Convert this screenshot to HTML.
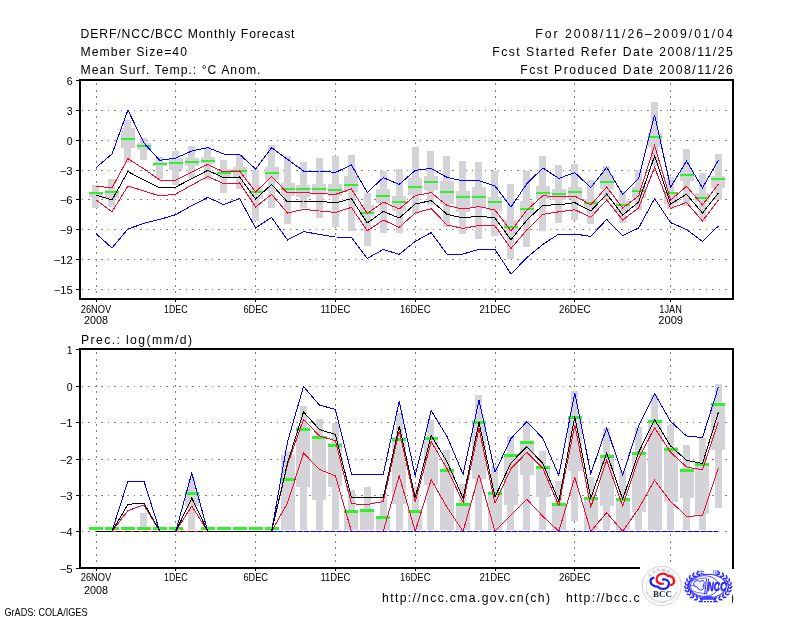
<!DOCTYPE html><html><head><meta charset="utf-8"><title>DERF/NCC/BCC Monthly Forecast</title>
<style>html,body{margin:0;padding:0;background:#fff}svg{display:block}text{font-family:"Liberation Sans","Noto Sans CJK SC",sans-serif;fill:#000}</style></head><body>
<svg width="800" height="618" viewBox="0 0 800 618">
<rect width="800" height="618" fill="#fff"/>
<g stroke="#808080" stroke-width="1" fill="none" shape-rendering="crispEdges">
<line x1="81" y1="110.5" x2="732" y2="110.5" stroke-dasharray="2 4.5 1 5.5" stroke-dashoffset="-7"/>
<line x1="81" y1="140.5" x2="732" y2="140.5" stroke-dasharray="2 4.5 1 5.5" stroke-dashoffset="-7"/>
<line x1="81" y1="170.5" x2="732" y2="170.5" stroke-dasharray="2 4.5 1 5.5" stroke-dashoffset="-7"/>
<line x1="81" y1="199.5" x2="732" y2="199.5" stroke-dasharray="2 4.5 1 5.5" stroke-dashoffset="-7"/>
<line x1="81" y1="229.5" x2="732" y2="229.5" stroke-dasharray="2 4.5 1 5.5" stroke-dashoffset="-7"/>
<line x1="81" y1="259.5" x2="732" y2="259.5" stroke-dasharray="2 4.5 1 5.5" stroke-dashoffset="-7"/>
<line x1="81" y1="289.5" x2="732" y2="289.5" stroke-dasharray="2 4.5 1 5.5" stroke-dashoffset="-7"/>
<line x1="96.5" y1="81" x2="96.5" y2="299" stroke-dasharray="2 4.5" stroke-dashoffset="-2"/>
<line x1="175.5" y1="81" x2="175.5" y2="299" stroke-dasharray="2 4.5" stroke-dashoffset="-2"/>
<line x1="255.5" y1="81" x2="255.5" y2="299" stroke-dasharray="2 4.5" stroke-dashoffset="-2"/>
<line x1="335.5" y1="81" x2="335.5" y2="299" stroke-dasharray="2 4.5" stroke-dashoffset="-2"/>
<line x1="415.5" y1="81" x2="415.5" y2="299" stroke-dasharray="2 4.5" stroke-dashoffset="-2"/>
<line x1="495.5" y1="81" x2="495.5" y2="299" stroke-dasharray="2 4.5" stroke-dashoffset="-2"/>
<line x1="574.5" y1="81" x2="574.5" y2="299" stroke-dasharray="2 4.5" stroke-dashoffset="-2"/>
<line x1="670.5" y1="81" x2="670.5" y2="299" stroke-dasharray="2 4.5" stroke-dashoffset="-2"/>
</g>
<g shape-rendering="crispEdges">
<rect x="92" y="184.5" width="7" height="23" fill="#d4d4d8"/>
<rect x="89" y="192" width="14" height="5" fill="#d4d4d8"/>
<rect x="108" y="178.7" width="7" height="27.8" fill="#d4d4d8"/>
<rect x="105" y="189.5" width="14" height="8.5" fill="#d4d4d8"/>
<rect x="124" y="120" width="7" height="42.8" fill="#d4d4d8"/>
<rect x="121" y="128" width="14" height="20.4" fill="#d4d4d8"/>
<rect x="140" y="138.3" width="7" height="21.4" fill="#d4d4d8"/>
<rect x="137" y="143.3" width="14" height="6.2" fill="#d4d4d8"/>
<rect x="156" y="157" width="7" height="21.6" fill="#d4d4d8"/>
<rect x="153" y="161.5" width="14" height="4.5" fill="#d4d4d8"/>
<rect x="172" y="151" width="7" height="34" fill="#d4d4d8"/>
<rect x="169" y="158" width="14" height="12" fill="#d4d4d8"/>
<rect x="188" y="146" width="7" height="32" fill="#d4d4d8"/>
<rect x="185" y="158" width="14" height="7.6" fill="#d4d4d8"/>
<rect x="204" y="147" width="7" height="33" fill="#d4d4d8"/>
<rect x="201" y="157" width="14" height="7" fill="#d4d4d8"/>
<rect x="220" y="160" width="7" height="33.4" fill="#d4d4d8"/>
<rect x="217" y="169" width="14" height="9" fill="#d4d4d8"/>
<rect x="236" y="155" width="7" height="34" fill="#d4d4d8"/>
<rect x="233" y="167" width="14" height="11" fill="#d4d4d8"/>
<rect x="252" y="170" width="7" height="51" fill="#d4d4d8"/>
<rect x="249" y="189" width="14" height="10" fill="#d4d4d8"/>
<rect x="268" y="145" width="7" height="63" fill="#d4d4d8"/>
<rect x="265" y="167" width="14" height="13" fill="#d4d4d8"/>
<rect x="284" y="156" width="7" height="68" fill="#d4d4d8"/>
<rect x="281" y="183" width="14" height="12.6" fill="#d4d4d8"/>
<rect x="300" y="162" width="7" height="46" fill="#d4d4d8"/>
<rect x="296" y="185" width="14" height="12" fill="#d4d4d8"/>
<rect x="316" y="158" width="7" height="60" fill="#d4d4d8"/>
<rect x="312" y="184" width="14" height="11" fill="#d4d4d8"/>
<rect x="332" y="156" width="7" height="71" fill="#d4d4d8"/>
<rect x="328" y="184" width="14" height="12" fill="#d4d4d8"/>
<rect x="348" y="155" width="7" height="76.4" fill="#d4d4d8"/>
<rect x="344" y="176" width="14" height="16" fill="#d4d4d8"/>
<rect x="364" y="193" width="7" height="52.6" fill="#d4d4d8"/>
<rect x="360" y="205" width="14" height="11" fill="#d4d4d8"/>
<rect x="380" y="171" width="7" height="62.3" fill="#d4d4d8"/>
<rect x="376" y="189" width="14" height="14" fill="#d4d4d8"/>
<rect x="396" y="169" width="7" height="64.3" fill="#d4d4d8"/>
<rect x="392" y="196" width="14" height="15" fill="#d4d4d8"/>
<rect x="412" y="147" width="7" height="66.5" fill="#d4d4d8"/>
<rect x="408" y="178" width="14" height="17" fill="#d4d4d8"/>
<rect x="427" y="151" width="7" height="54" fill="#d4d4d8"/>
<rect x="424" y="176" width="14" height="14" fill="#d4d4d8"/>
<rect x="443" y="156" width="7" height="71" fill="#d4d4d8"/>
<rect x="440" y="181" width="14" height="23" fill="#d4d4d8"/>
<rect x="459" y="161" width="7" height="73.2" fill="#d4d4d8"/>
<rect x="456" y="191" width="14" height="21" fill="#d4d4d8"/>
<rect x="475" y="162" width="7" height="77.2" fill="#d4d4d8"/>
<rect x="472" y="187" width="14" height="20" fill="#d4d4d8"/>
<rect x="491" y="171" width="7" height="65.2" fill="#d4d4d8"/>
<rect x="488" y="197" width="14" height="14" fill="#d4d4d8"/>
<rect x="507" y="184" width="7" height="75" fill="#d4d4d8"/>
<rect x="504" y="220" width="14" height="15" fill="#d4d4d8"/>
<rect x="523" y="171" width="7" height="76.4" fill="#d4d4d8"/>
<rect x="520" y="201" width="14" height="15" fill="#d4d4d8"/>
<rect x="539" y="156" width="7" height="75.2" fill="#d4d4d8"/>
<rect x="536" y="186" width="14" height="13" fill="#d4d4d8"/>
<rect x="555" y="165" width="7" height="58.2" fill="#d4d4d8"/>
<rect x="552" y="189" width="14" height="11" fill="#d4d4d8"/>
<rect x="571" y="164" width="7" height="56.2" fill="#d4d4d8"/>
<rect x="568" y="187" width="14" height="12" fill="#d4d4d8"/>
<rect x="587" y="180" width="7" height="44.2" fill="#d4d4d8"/>
<rect x="584" y="199" width="14" height="10" fill="#d4d4d8"/>
<rect x="603" y="166" width="7" height="34" fill="#d4d4d8"/>
<rect x="600" y="175" width="14" height="14" fill="#d4d4d8"/>
<rect x="619" y="191" width="7" height="32" fill="#d4d4d8"/>
<rect x="616" y="201" width="14" height="11" fill="#d4d4d8"/>
<rect x="635" y="170" width="7" height="40" fill="#d4d4d8"/>
<rect x="632" y="187" width="14" height="11" fill="#d4d4d8"/>
<rect x="651" y="102" width="7" height="64" fill="#d4d4d8"/>
<rect x="648" y="133" width="14" height="13.5" fill="#d4d4d8"/>
<rect x="667" y="177" width="7" height="32" fill="#d4d4d8"/>
<rect x="664" y="192" width="14" height="12" fill="#d4d4d8"/>
<rect x="683" y="149" width="7" height="57" fill="#d4d4d8"/>
<rect x="680" y="170" width="14" height="11" fill="#d4d4d8"/>
<rect x="699" y="173" width="7" height="48" fill="#d4d4d8"/>
<rect x="695" y="193" width="14" height="9" fill="#d4d4d8"/>
<rect x="715" y="154" width="7" height="46" fill="#d4d4d8"/>
<rect x="711" y="176" width="14" height="12" fill="#d4d4d8"/>
<rect x="89" y="192" width="14" height="2" fill="#33ee33"/>
<rect x="105" y="191" width="14" height="2" fill="#33ee33"/>
<rect x="121" y="138" width="14" height="2" fill="#33ee33"/>
<rect x="137" y="145" width="14" height="2" fill="#33ee33"/>
<rect x="153" y="163" width="14" height="2" fill="#33ee33"/>
<rect x="169" y="162" width="14" height="2" fill="#33ee33"/>
<rect x="185" y="161" width="14" height="2" fill="#33ee33"/>
<rect x="201" y="160" width="14" height="2" fill="#33ee33"/>
<rect x="217" y="172" width="14" height="2" fill="#33ee33"/>
<rect x="233" y="170" width="14" height="2" fill="#33ee33"/>
<rect x="249" y="191" width="14" height="2" fill="#33ee33"/>
<rect x="265" y="172" width="14" height="2" fill="#33ee33"/>
<rect x="281" y="188" width="14" height="2" fill="#33ee33"/>
<rect x="296" y="188" width="14" height="2" fill="#33ee33"/>
<rect x="312" y="188" width="14" height="2" fill="#33ee33"/>
<rect x="328" y="189" width="14" height="2" fill="#33ee33"/>
<rect x="344" y="184" width="14" height="2" fill="#33ee33"/>
<rect x="360" y="212" width="14" height="2" fill="#33ee33"/>
<rect x="376" y="195" width="14" height="2" fill="#33ee33"/>
<rect x="392" y="201" width="14" height="2" fill="#33ee33"/>
<rect x="408" y="186" width="14" height="2" fill="#33ee33"/>
<rect x="424" y="181" width="14" height="2" fill="#33ee33"/>
<rect x="440" y="191" width="14" height="2" fill="#33ee33"/>
<rect x="456" y="196" width="14" height="2" fill="#33ee33"/>
<rect x="472" y="196" width="14" height="2" fill="#33ee33"/>
<rect x="488" y="201" width="14" height="2" fill="#33ee33"/>
<rect x="504" y="226" width="14" height="2" fill="#33ee33"/>
<rect x="520" y="208" width="14" height="2" fill="#33ee33"/>
<rect x="536" y="192" width="14" height="2" fill="#33ee33"/>
<rect x="552" y="193" width="14" height="2" fill="#33ee33"/>
<rect x="568" y="191" width="14" height="2" fill="#33ee33"/>
<rect x="584" y="202" width="14" height="2" fill="#33ee33"/>
<rect x="600" y="181" width="14" height="2" fill="#33ee33"/>
<rect x="616" y="204" width="14" height="2" fill="#33ee33"/>
<rect x="632" y="190" width="14" height="2" fill="#33ee33"/>
<rect x="648" y="136" width="14" height="2" fill="#33ee33"/>
<rect x="664" y="192" width="14" height="2" fill="#33ee33"/>
<rect x="680" y="174" width="14" height="2" fill="#33ee33"/>
<rect x="695" y="197" width="14" height="2" fill="#33ee33"/>
<rect x="711" y="178" width="14" height="2" fill="#33ee33"/>
<polyline fill="none" stroke="#0000ff" stroke-width="1"  points="96,167.6 112,154 127.9,110 143.9,143 159.8,160.4 175.8,158 191.8,151 207.7,147.6 223.7,154 239.6,154.4 255.6,169 271.6,147.6 287.5,159.4 303.5,171 319.4,171 335.4,172.4 351.4,165 367.3,192.4 383.3,177.6 399.2,184.4 415.2,170.4 431.2,168.4 447.1,177.4 463.1,181 479,180.6 495,186 511,207 526.9,183.6 542.9,168 558.8,178.4 574.8,172.6 590.8,187.6 606.7,167.4 622.7,194.4 638.6,178.6 654.6,115 670.6,187.2 686.5,161 702.5,188 718.4,160"/>
<polyline fill="none" stroke="#0000ff" stroke-width="1"  points="96,233.6 112,248 127.9,229 143.9,223.4 159.8,219.4 175.8,214.6 191.8,205.6 207.7,197.4 223.7,204.6 239.6,198.6 255.6,228 271.6,217.4 287.5,240 303.5,231.6 319.4,234.4 335.4,237 351.4,237.2 367.3,258.4 383.3,249.4 399.2,254.4 415.2,241.4 431.2,232.6 447.1,254.4 463.1,254 479,249.4 495,249.4 511,274 526.9,257.6 542.9,244.4 558.8,234 574.8,234 590.8,236.4 606.7,219.4 622.7,235.5 638.6,228 654.6,198.6 670.6,222.6 686.5,229.5 702.5,241.4 718.4,226"/>
<polyline fill="none" stroke="#f00a32" stroke-width="1"  points="96,186 112,188 127.9,158.6 143.9,169 159.8,180 175.8,180 191.8,172 207.7,164.4 223.7,172 239.6,171 255.6,192 271.6,176.4 287.5,193 303.5,192.6 319.4,193.6 335.4,194.4 351.4,189 367.3,213.6 383.3,202 399.2,209 415.2,195.6 431.2,192.6 447.1,205.6 463.1,209 479,206.6 495,210 511,231 526.9,210 542.9,195.7 558.8,196.8 574.8,196 590.8,205 606.7,187 622.7,208 638.6,196 654.6,145.4 670.6,200 686.5,186.3 702.5,205 718.4,184"/>
<polyline fill="none" stroke="#f00a32" stroke-width="1"  points="96,200 112,211.8 127.9,186 143.9,191 159.8,196 175.8,194 191.8,185 207.7,176.6 223.7,183.6 239.6,183 255.6,207 271.6,194.4 287.5,213 303.5,209.4 319.4,211 335.4,212.4 351.4,207.4 367.3,230.8 383.3,220 399.2,227.4 415.2,213 431.2,208.6 447.1,225 463.1,228.4 479,225.4 495,226 511,248.5 526.9,229.8 542.9,214.4 558.8,211.8 574.8,209.8 590.8,217.2 606.7,200 622.7,220 638.6,208 654.6,167.4 670.6,208.4 686.5,202.5 702.5,221 718.4,200"/>
<polyline fill="none" stroke="#000" stroke-width="1"  points="96,195 112,200 127.9,171.6 143.9,180 159.8,188 175.8,187 191.8,178.6 207.7,170.4 223.7,177.6 239.6,177 255.6,199 271.6,184.4 287.5,202 303.5,201 319.4,201 335.4,203 351.4,198.6 367.3,223 383.3,211.4 399.2,218 415.2,204 431.2,200.6 447.1,214.4 463.1,218 479,216 495,218 511,239.8 526.9,220 542.9,205.2 558.8,204.8 574.8,202.6 590.8,211 606.7,194 622.7,215 638.6,202 654.6,156 670.6,204 686.5,194.2 702.5,213 718.4,193"/>
</g>
<g stroke="#808080" stroke-width="1" fill="none" shape-rendering="crispEdges">
<line x1="81" y1="386.5" x2="732" y2="386.5" stroke-dasharray="2 4.5 1 5.5" stroke-dashoffset="-7"/>
<line x1="81" y1="422.5" x2="732" y2="422.5" stroke-dasharray="2 4.5 1 5.5" stroke-dashoffset="-7"/>
<line x1="81" y1="459.5" x2="732" y2="459.5" stroke-dasharray="2 4.5 1 5.5" stroke-dashoffset="-7"/>
<line x1="81" y1="495.5" x2="732" y2="495.5" stroke-dasharray="2 4.5 1 5.5" stroke-dashoffset="-7"/>
<line x1="81" y1="531.5" x2="732" y2="531.5" stroke-dasharray="2 4.5 1 5.5" stroke-dashoffset="-7"/>
<line x1="96.5" y1="350" x2="96.5" y2="568" stroke-dasharray="2 4.5" stroke-dashoffset="-2"/>
<line x1="175.5" y1="350" x2="175.5" y2="568" stroke-dasharray="2 4.5" stroke-dashoffset="-2"/>
<line x1="255.5" y1="350" x2="255.5" y2="568" stroke-dasharray="2 4.5" stroke-dashoffset="-2"/>
<line x1="335.5" y1="350" x2="335.5" y2="568" stroke-dasharray="2 4.5" stroke-dashoffset="-2"/>
<line x1="415.5" y1="350" x2="415.5" y2="568" stroke-dasharray="2 4.5" stroke-dashoffset="-2"/>
<line x1="495.5" y1="350" x2="495.5" y2="568" stroke-dasharray="2 4.5" stroke-dashoffset="-2"/>
<line x1="574.5" y1="350" x2="574.5" y2="568" stroke-dasharray="2 4.5" stroke-dashoffset="-2"/>
<line x1="670.5" y1="350" x2="670.5" y2="568" stroke-dasharray="2 4.5" stroke-dashoffset="-2"/>
</g>
<g shape-rendering="crispEdges">
<rect x="140" y="513" width="7" height="14" fill="#d4d4d8"/>
<rect x="188" y="479" width="7" height="50.5" fill="#d4d4d8"/>
<rect x="185" y="492.3" width="14" height="13.7" fill="#d4d4d8"/>
<rect x="284" y="451" width="7" height="78.5" fill="#d4d4d8"/>
<rect x="281" y="455" width="14" height="74.5" fill="#d4d4d8"/>
<rect x="300" y="405.8" width="7" height="123.7" fill="#d4d4d8"/>
<rect x="296" y="427" width="14" height="59.5" fill="#d4d4d8"/>
<rect x="316" y="419" width="7" height="110.5" fill="#d4d4d8"/>
<rect x="312" y="435.8" width="14" height="64.2" fill="#d4d4d8"/>
<rect x="332" y="422.5" width="7" height="107" fill="#d4d4d8"/>
<rect x="328" y="443" width="14" height="43.5" fill="#d4d4d8"/>
<rect x="348" y="489.6" width="7" height="39.9" fill="#d4d4d8"/>
<rect x="344" y="510" width="14" height="19.5" fill="#d4d4d8"/>
<rect x="364" y="487" width="7" height="42.5" fill="#d4d4d8"/>
<rect x="360" y="509" width="14" height="20.5" fill="#d4d4d8"/>
<rect x="380" y="494" width="7" height="35.5" fill="#d4d4d8"/>
<rect x="376" y="516" width="14" height="13.5" fill="#d4d4d8"/>
<rect x="396" y="413" width="7" height="116.5" fill="#d4d4d8"/>
<rect x="392" y="437" width="14" height="66.5" fill="#d4d4d8"/>
<rect x="412" y="486" width="7" height="43.5" fill="#d4d4d8"/>
<rect x="408" y="510" width="14" height="19.5" fill="#d4d4d8"/>
<rect x="427" y="419.5" width="7" height="110" fill="#d4d4d8"/>
<rect x="424" y="436.6" width="14" height="48.7" fill="#d4d4d8"/>
<rect x="443" y="449.8" width="7" height="79.7" fill="#d4d4d8"/>
<rect x="440" y="468.6" width="14" height="60.9" fill="#d4d4d8"/>
<rect x="459" y="483.6" width="7" height="45.9" fill="#d4d4d8"/>
<rect x="456" y="502.5" width="14" height="27" fill="#d4d4d8"/>
<rect x="475" y="395" width="7" height="134.5" fill="#d4d4d8"/>
<rect x="472" y="421" width="14" height="57.6" fill="#d4d4d8"/>
<rect x="491" y="466" width="7" height="63.5" fill="#d4d4d8"/>
<rect x="488" y="491" width="14" height="38.5" fill="#d4d4d8"/>
<rect x="507" y="436" width="7" height="93.5" fill="#d4d4d8"/>
<rect x="504" y="454.8" width="14" height="50.2" fill="#d4d4d8"/>
<rect x="523" y="421" width="7" height="108.5" fill="#d4d4d8"/>
<rect x="520" y="441" width="14" height="33.8" fill="#d4d4d8"/>
<rect x="539" y="451" width="7" height="78.5" fill="#d4d4d8"/>
<rect x="536" y="466" width="14" height="31.4" fill="#d4d4d8"/>
<rect x="555" y="481" width="7" height="48.5" fill="#d4d4d8"/>
<rect x="552" y="502.5" width="14" height="27" fill="#d4d4d8"/>
<rect x="571" y="390.8" width="7" height="130.2" fill="#d4d4d8"/>
<rect x="568" y="416" width="14" height="55" fill="#d4d4d8"/>
<rect x="587" y="477" width="7" height="52.5" fill="#d4d4d8"/>
<rect x="584" y="497.4" width="14" height="32.1" fill="#d4d4d8"/>
<rect x="603" y="428.4" width="7" height="101.1" fill="#d4d4d8"/>
<rect x="600" y="455.4" width="14" height="51" fill="#d4d4d8"/>
<rect x="619" y="471" width="7" height="58.5" fill="#d4d4d8"/>
<rect x="616" y="498" width="14" height="31.5" fill="#d4d4d8"/>
<rect x="635" y="427" width="7" height="102.5" fill="#d4d4d8"/>
<rect x="632" y="452.3" width="14" height="60.1" fill="#d4d4d8"/>
<rect x="651" y="395" width="7" height="134.5" fill="#d4d4d8"/>
<rect x="648" y="420" width="14" height="109.5" fill="#d4d4d8"/>
<rect x="667" y="425" width="7" height="104.5" fill="#d4d4d8"/>
<rect x="664" y="447.3" width="14" height="55.1" fill="#d4d4d8"/>
<rect x="683" y="445" width="7" height="84.5" fill="#d4d4d8"/>
<rect x="680" y="468.8" width="14" height="29.6" fill="#d4d4d8"/>
<rect x="699" y="437.5" width="7" height="92" fill="#d4d4d8"/>
<rect x="695" y="463.6" width="14" height="50.1" fill="#d4d4d8"/>
<rect x="715" y="384" width="7" height="123.6" fill="#d4d4d8"/>
<rect x="711" y="403" width="14" height="46.8" fill="#d4d4d8"/>
<rect x="89" y="527" width="14" height="3" fill="#33ee33"/>
<rect x="105" y="527" width="14" height="3" fill="#33ee33"/>
<rect x="121" y="527" width="14" height="3" fill="#33ee33"/>
<rect x="137" y="527" width="14" height="3" fill="#33ee33"/>
<rect x="153" y="527" width="14" height="3" fill="#33ee33"/>
<rect x="169" y="527" width="14" height="3" fill="#33ee33"/>
<rect x="185" y="492" width="14" height="3" fill="#33ee33"/>
<rect x="201" y="527" width="14" height="3" fill="#33ee33"/>
<rect x="217" y="527" width="14" height="3" fill="#33ee33"/>
<rect x="233" y="527" width="14" height="3" fill="#33ee33"/>
<rect x="249" y="527" width="14" height="3" fill="#33ee33"/>
<rect x="265" y="527" width="14" height="3" fill="#33ee33"/>
<rect x="281" y="478" width="14" height="3" fill="#33ee33"/>
<rect x="296" y="428" width="14" height="3" fill="#33ee33"/>
<rect x="312" y="436" width="14" height="3" fill="#33ee33"/>
<rect x="328" y="444" width="14" height="3" fill="#33ee33"/>
<rect x="344" y="510" width="14" height="3" fill="#33ee33"/>
<rect x="360" y="509" width="14" height="3" fill="#33ee33"/>
<rect x="376" y="516" width="14" height="3" fill="#33ee33"/>
<rect x="392" y="438" width="14" height="3" fill="#33ee33"/>
<rect x="408" y="510" width="14" height="3" fill="#33ee33"/>
<rect x="424" y="437" width="14" height="3" fill="#33ee33"/>
<rect x="440" y="469" width="14" height="3" fill="#33ee33"/>
<rect x="456" y="503" width="14" height="3" fill="#33ee33"/>
<rect x="472" y="421" width="14" height="3" fill="#33ee33"/>
<rect x="488" y="492" width="14" height="3" fill="#33ee33"/>
<rect x="504" y="454" width="14" height="3" fill="#33ee33"/>
<rect x="520" y="441" width="14" height="3" fill="#33ee33"/>
<rect x="536" y="466" width="14" height="3" fill="#33ee33"/>
<rect x="552" y="503" width="14" height="3" fill="#33ee33"/>
<rect x="568" y="416" width="14" height="3" fill="#33ee33"/>
<rect x="584" y="497" width="14" height="3" fill="#33ee33"/>
<rect x="600" y="455" width="14" height="3" fill="#33ee33"/>
<rect x="616" y="498" width="14" height="3" fill="#33ee33"/>
<rect x="632" y="452" width="14" height="3" fill="#33ee33"/>
<rect x="648" y="420" width="14" height="3" fill="#33ee33"/>
<rect x="664" y="448" width="14" height="3" fill="#33ee33"/>
<rect x="680" y="469" width="14" height="3" fill="#33ee33"/>
<rect x="695" y="463" width="14" height="3" fill="#33ee33"/>
<rect x="711" y="403" width="14" height="3" fill="#33ee33"/>
<polyline fill="none" stroke="#0000ff" stroke-width="1"  points="96,531.3 112,531.3 127.9,481 143.9,481 159.8,531.3 175.8,531.3 191.8,473 207.7,531.3 223.7,531.3 239.6,531.3 255.6,531.3 271.6,531.3 287.5,442 303.5,386.5 319.4,405 335.4,409.5 351.4,474 367.3,474 383.3,474 399.2,401.5 415.2,475.8 431.2,410.6 447.1,436.7 463.1,474.3 479,400 495,472.3 511,438.5 526.9,421.6 542.9,438.5 558.8,475.4 574.8,392.7 590.8,473.6 606.7,427.8 622.7,475 638.6,426 654.6,393.5 670.6,421.5 686.5,436 702.5,437.6 718.4,387"/>
<polyline fill="none" stroke="#f00a32" stroke-width="1"  points="96,531.3 112,531.3 127.9,510.6 143.9,505 159.8,531.3 175.8,531.3 191.8,506 207.7,531.3 223.7,531.3 239.6,531.3 255.6,531.3 271.6,531.3 287.5,464.5 303.5,419.5 319.4,435.8 335.4,440.8 351.4,503.8 367.3,504.5 383.3,501.5 399.2,430.8 415.2,502 431.2,441.8 447.1,468.6 463.1,502.5 479,428.4 495,503.2 511,468.6 526.9,452.3 542.9,468.6 558.8,505.7 574.8,424.7 590.8,507 606.7,460.4 622.7,506.3 638.6,458.6 654.6,427.7 670.6,452.3 686.5,466.9 702.5,469.9 718.4,421.5"/>
<polyline fill="none" stroke="#f00a32" stroke-width="1"  points="96,531.3 112,531.3 127.9,531.3 143.9,531.3 159.8,531.3 175.8,531.3 191.8,531.3 207.7,531.3 223.7,531.3 239.6,531.3 255.6,531.3 271.6,531.3 287.5,503 303.5,453 319.4,469.5 335.4,475.8 351.4,531.3 367.3,531.3 383.3,531.3 399.2,475.8 415.2,531.3 431.2,479.7 447.1,507.5 463.1,531.3 479,474.8 495,531.3 511,515 526.9,499.4 542.9,516.3 558.8,531.3 574.8,477.4 590.8,531.3 606.7,512.7 622.7,531.3 638.6,508.5 654.6,480.3 670.6,501.5 686.5,516.2 702.5,515.8 718.4,468"/>
<polyline fill="none" stroke="#000" stroke-width="1"  points="96,531.3 112,531.3 127.9,504.4 143.9,503 159.8,531.3 175.8,531.3 191.8,498 207.7,531.3 223.7,531.3 239.6,531.3 255.6,531.3 271.6,531.3 287.5,463 303.5,412 319.4,429.5 335.4,434.5 351.4,497.8 367.3,497.8 383.3,497.8 399.2,425.8 415.2,497.5 431.2,435.5 447.1,461.8 463.1,498.2 479,422.2 495,497 511,462.8 526.9,446.7 542.9,463.6 558.8,501.2 574.8,416.5 590.8,498 606.7,453.1 622.7,499.3 638.6,452.3 654.6,419.7 670.6,446 686.5,460.3 702.5,463.6 718.4,412.3"/>
<polyline fill="none" stroke="#0000ff" stroke-width="1" stroke-dasharray="5 1.5" points="271.6,531.3 718.4,531.3"/>
<polyline fill="none" stroke="#000" stroke-width="1"  points="96,531.3 271.6,531.3"/>
<polyline fill="none" stroke="#f00a32" stroke-width="1" stroke-dasharray="4 5" points="112,531.3 159.8,531.3"/>
<polyline fill="none" stroke="#f00a32" stroke-width="1" stroke-dasharray="4 5" points="175.8,531.3 207.7,531.3"/>
</g>
<g shape-rendering="crispEdges" fill="none" stroke="#000">
<rect x="80" y="80" width="653" height="219" stroke-width="2"/>
<rect x="80" y="349" width="653" height="219" stroke-width="2"/>
<line x1="76" y1="80.5" x2="79" y2="80.5"/>
<line x1="76" y1="110.5" x2="79" y2="110.5"/>
<line x1="76" y1="140.5" x2="79" y2="140.5"/>
<line x1="76" y1="170.5" x2="79" y2="170.5"/>
<line x1="76" y1="199.5" x2="79" y2="199.5"/>
<line x1="76" y1="229.5" x2="79" y2="229.5"/>
<line x1="76" y1="259.5" x2="79" y2="259.5"/>
<line x1="76" y1="289.5" x2="79" y2="289.5"/>
<line x1="76" y1="349.5" x2="79" y2="349.5"/>
<line x1="76" y1="386.5" x2="79" y2="386.5"/>
<line x1="76" y1="422.5" x2="79" y2="422.5"/>
<line x1="76" y1="459.5" x2="79" y2="459.5"/>
<line x1="76" y1="495.5" x2="79" y2="495.5"/>
<line x1="76" y1="531.5" x2="79" y2="531.5"/>
<line x1="76" y1="568.5" x2="79" y2="568.5"/>
<line x1="96.5" y1="300" x2="96.5" y2="302"/>
<line x1="96.5" y1="569" x2="96.5" y2="571"/>
<line x1="175.5" y1="300" x2="175.5" y2="302"/>
<line x1="175.5" y1="569" x2="175.5" y2="571"/>
<line x1="255.5" y1="300" x2="255.5" y2="302"/>
<line x1="255.5" y1="569" x2="255.5" y2="571"/>
<line x1="335.5" y1="300" x2="335.5" y2="302"/>
<line x1="335.5" y1="569" x2="335.5" y2="571"/>
<line x1="415.5" y1="300" x2="415.5" y2="302"/>
<line x1="415.5" y1="569" x2="415.5" y2="571"/>
<line x1="495.5" y1="300" x2="495.5" y2="302"/>
<line x1="495.5" y1="569" x2="495.5" y2="571"/>
<line x1="574.5" y1="300" x2="574.5" y2="302"/>
<line x1="574.5" y1="569" x2="574.5" y2="571"/>
<line x1="670.5" y1="300" x2="670.5" y2="302"/>
<line x1="670.5" y1="569" x2="670.5" y2="571"/>
</g>
<text x="80.5" y="37.7" font-size="12.2" text-anchor="start" textLength="214" lengthAdjust="spacing">DERF/NCC/BCC Monthly Forecast</text>
<text x="80.5" y="55.8" font-size="12.2" text-anchor="start" textLength="106.5" lengthAdjust="spacing">Member Size=40</text>
<text x="80.5" y="73.8" font-size="12.2" text-anchor="start" textLength="180" lengthAdjust="spacing">Mean Surf. Temp.: °C Anom.</text>
<text x="535.3" y="37.7" font-size="12.2" text-anchor="start" textLength="197.4" lengthAdjust="spacing">For 2008/11/26–2009/01/04</text>
<text x="492.3" y="56" font-size="12.2" text-anchor="start" textLength="240.4" lengthAdjust="spacing">Fcst Started Refer Date 2008/11/25</text>
<text x="520.3" y="73.8" font-size="12.2" text-anchor="start" textLength="212.4" lengthAdjust="spacing">Fcst Produced Date 2008/11/26</text>
<text x="81" y="343.5" font-size="12.2" text-anchor="start" textLength="111" lengthAdjust="spacing">Prec.: log(mm/d)</text>
<text x="72.7" y="84.6" font-size="10.5" text-anchor="end">6</text>
<text x="72.7" y="114.6" font-size="10.5" text-anchor="end">3</text>
<text x="72.7" y="144.6" font-size="10.5" text-anchor="end">0</text>
<text x="72.7" y="174.6" font-size="10.5" text-anchor="end" textLength="13" lengthAdjust="spacingAndGlyphs">−3</text>
<text x="72.7" y="203.6" font-size="10.5" text-anchor="end" textLength="13" lengthAdjust="spacingAndGlyphs">−6</text>
<text x="72.7" y="233.6" font-size="10.5" text-anchor="end" textLength="13" lengthAdjust="spacingAndGlyphs">−9</text>
<text x="72.7" y="263.6" font-size="10.5" text-anchor="end" textLength="19" lengthAdjust="spacingAndGlyphs">−12</text>
<text x="72.7" y="293.6" font-size="10.5" text-anchor="end" textLength="19" lengthAdjust="spacingAndGlyphs">−15</text>
<text x="72.7" y="353.6" font-size="10.5" text-anchor="end">1</text>
<text x="72.7" y="390.6" font-size="10.5" text-anchor="end">0</text>
<text x="72.7" y="426.6" font-size="10.5" text-anchor="end" textLength="13" lengthAdjust="spacingAndGlyphs">−1</text>
<text x="72.7" y="463.6" font-size="10.5" text-anchor="end" textLength="13" lengthAdjust="spacingAndGlyphs">−2</text>
<text x="72.7" y="499.6" font-size="10.5" text-anchor="end" textLength="13" lengthAdjust="spacingAndGlyphs">−3</text>
<text x="72.7" y="535.6" font-size="10.5" text-anchor="end" textLength="13" lengthAdjust="spacingAndGlyphs">−4</text>
<text x="72.7" y="572.6" font-size="10.5" text-anchor="end" textLength="13" lengthAdjust="spacingAndGlyphs">−5</text>
<text x="80.7" y="312.6" font-size="10.5" text-anchor="start" textLength="30.6" lengthAdjust="spacingAndGlyphs">26NOV</text>
<text x="164" y="312.6" font-size="10.5" text-anchor="start" textLength="23.6" lengthAdjust="spacingAndGlyphs">1DEC</text>
<text x="243.4" y="312.6" font-size="10.5" text-anchor="start" textLength="24.5" lengthAdjust="spacingAndGlyphs">6DEC</text>
<text x="320.4" y="312.6" font-size="10.5" text-anchor="start" textLength="30" lengthAdjust="spacingAndGlyphs">11DEC</text>
<text x="400" y="312.6" font-size="10.5" text-anchor="start" textLength="30.5" lengthAdjust="spacingAndGlyphs">16DEC</text>
<text x="479.5" y="312.6" font-size="10.5" text-anchor="start" textLength="31" lengthAdjust="spacingAndGlyphs">21DEC</text>
<text x="559" y="312.6" font-size="10.5" text-anchor="start" textLength="31.5" lengthAdjust="spacingAndGlyphs">26DEC</text>
<text x="659.3" y="312.6" font-size="10.5" text-anchor="start" textLength="22.5" lengthAdjust="spacingAndGlyphs">1JAN</text>
<text x="84" y="324.1" font-size="10.5" text-anchor="start" textLength="24" lengthAdjust="spacingAndGlyphs">2008</text>
<text x="658.3" y="324.1" font-size="10.5" text-anchor="start" textLength="24.7" lengthAdjust="spacingAndGlyphs">2009</text>
<text x="80.7" y="581.2" font-size="10.5" text-anchor="start" textLength="30.6" lengthAdjust="spacingAndGlyphs">26NOV</text>
<text x="164" y="581.2" font-size="10.5" text-anchor="start" textLength="23.6" lengthAdjust="spacingAndGlyphs">1DEC</text>
<text x="243.4" y="581.2" font-size="10.5" text-anchor="start" textLength="24.5" lengthAdjust="spacingAndGlyphs">6DEC</text>
<text x="320.4" y="581.2" font-size="10.5" text-anchor="start" textLength="30" lengthAdjust="spacingAndGlyphs">11DEC</text>
<text x="400" y="581.2" font-size="10.5" text-anchor="start" textLength="30.5" lengthAdjust="spacingAndGlyphs">16DEC</text>
<text x="479.5" y="581.2" font-size="10.5" text-anchor="start" textLength="31" lengthAdjust="spacingAndGlyphs">21DEC</text>
<text x="559" y="581.2" font-size="10.5" text-anchor="start" textLength="31.5" lengthAdjust="spacingAndGlyphs">26DEC</text>
<text x="659.3" y="581.2" font-size="10.5" text-anchor="start" textLength="22.5" lengthAdjust="spacingAndGlyphs">1JAN</text>
<text x="84" y="593.6" font-size="10.5" text-anchor="start" textLength="24" lengthAdjust="spacingAndGlyphs">2008</text>
<text x="382" y="601.5" font-size="12.2" text-anchor="start" textLength="168" lengthAdjust="spacing">http://ncc.cma.gov.cn(ch)</text>
<text x="566" y="601.5" font-size="12.2" text-anchor="start" textLength="168" lengthAdjust="spacing">http://bcc.cma.gov.cn(en)</text>
<text x="4.5" y="616.2" font-size="10.5" text-anchor="start" textLength="83" lengthAdjust="spacingAndGlyphs">GrADS: COLA/IGES</text>
<rect x="640" y="565" width="92" height="44" fill="#fff"/>
<g id="bcc">
<circle cx="661.8" cy="586" r="19.6" fill="#fff" stroke="#c4c4c4" stroke-width="0.8"/>
<circle cx="661.8" cy="586" r="15.6" fill="none" stroke="#d0d0d0" stroke-width="0.6"/>
<defs><path id="ringT" d="M 647.6 580.8 A 15.1 15.1 0 0 1 676 580.8"/><path id="ringB" d="M 644.9 590.5 A 17.5 17.5 0 0 0 678.7 590.5"/></defs>
<text font-size="3.2" style="fill:#9a9a9a" letter-spacing="1.6"><textPath href="#ringT" startOffset="50%" text-anchor="middle">北京气候中心</textPath></text>
<text font-size="2.7" style="fill:#9a9a9a;font-family:'Liberation Serif',serif" letter-spacing="0.35"><textPath href="#ringB" startOffset="50%" text-anchor="middle">BEIJING CLIMATE CENTER</textPath></text>
<path d="M662.9 583.7 C659.5 584.2 656.4 582.3 656.6 579.2 C656.8 575.6 660.2 573.3 663.6 573.6 C665.6 573.8 667 574.6 667.8 575.9 C670.6 575.6 673.9 577.6 674.1 580.6 C674.3 582.9 673 584.4 671 585" fill="none" stroke="#f5141e" stroke-width="2.3" stroke-linecap="round" stroke-linejoin="round"/>
<path d="M662.9 579.5 C666.3 579 669.2 580.8 669 583.9 C668.8 587.4 665.6 589.3 662.2 588.9 C660.4 588.7 658.8 587.9 658 586.6 C655 586.8 651 585.2 650.5 581.9 C650.2 580 651.6 578.4 653.4 577.8" fill="none" stroke="#1c28f0" stroke-width="2.3" stroke-linecap="round" stroke-linejoin="round"/>
<text x="662.5" y="597.4" font-size="8.8" font-weight="bold" text-anchor="middle" textLength="18.8" lengthAdjust="spacingAndGlyphs" style="font-family:'Liberation Serif',serif;fill:#1a2230">BCC</text>
</g>
<g id="ncc" fill="none" stroke="#2626ff">
<g fill="#2626ff" stroke="none"><ellipse cx="698.5" cy="574.6" rx="2.1" ry="0.85" transform="rotate(12 698.5 574.6)"/><ellipse cx="697.6" cy="572.2" rx="2.1" ry="0.85" transform="rotate(-52 697.6 572.2)"/><ellipse cx="694.6" cy="576.4" rx="2.1" ry="0.85" transform="rotate(1 694.6 576.4)"/><ellipse cx="693.3" cy="574.2" rx="2.1" ry="0.85" transform="rotate(-63 693.3 574.2)"/><ellipse cx="691.5" cy="578.7" rx="2.1" ry="0.85" transform="rotate(-11 691.5 578.7)"/><ellipse cx="689.7" cy="576.9" rx="2.1" ry="0.85" transform="rotate(-75 689.7 576.9)"/><ellipse cx="689.3" cy="581.4" rx="2.1" ry="0.85" transform="rotate(-27 689.3 581.4)"/><ellipse cx="687.1" cy="580.1" rx="2.1" ry="0.85" transform="rotate(-91 687.1 580.1)"/><ellipse cx="688.1" cy="584.3" rx="2.1" ry="0.85" transform="rotate(-45 688.1 584.3)"/><ellipse cx="685.6" cy="583.7" rx="2.1" ry="0.85" transform="rotate(-109 685.6 583.7)"/><ellipse cx="687.9" cy="587.2" rx="2.1" ry="0.85" transform="rotate(-64 687.9 587.2)"/><ellipse cx="685.4" cy="587.5" rx="2.1" ry="0.85" transform="rotate(-128 685.4 587.5)"/><ellipse cx="688.7" cy="590.1" rx="2.1" ry="0.85" transform="rotate(-83 688.7 590.1)"/><ellipse cx="686.4" cy="591.2" rx="2.1" ry="0.85" transform="rotate(-147 686.4 591.2)"/><ellipse cx="690.6" cy="592.8" rx="2.1" ry="0.85" transform="rotate(-99 690.6 592.8)"/><ellipse cx="688.6" cy="594.5" rx="2.1" ry="0.85" transform="rotate(-163 688.6 594.5)"/><ellipse cx="693.3" cy="595.3" rx="2.1" ry="0.85" transform="rotate(-113 693.3 595.3)"/><ellipse cx="691.8" cy="597.4" rx="2.1" ry="0.85" transform="rotate(-177 691.8 597.4)"/><ellipse cx="696.9" cy="597.3" rx="2.1" ry="0.85" transform="rotate(-124 696.9 597.3)"/><ellipse cx="695.8" cy="599.7" rx="2.1" ry="0.85" transform="rotate(-188 695.8 599.7)"/><ellipse cx="701.1" cy="598.8" rx="2.1" ry="0.85" transform="rotate(-134 701.1 598.8)"/><ellipse cx="700.5" cy="601.3" rx="2.1" ry="0.85" transform="rotate(-198 700.5 601.3)"/><ellipse cx="717.9" cy="574.6" rx="2.1" ry="0.85" transform="rotate(-192 717.9 574.6)"/><ellipse cx="718.8" cy="572.2" rx="2.1" ry="0.85" transform="rotate(-128 718.8 572.2)"/><ellipse cx="721.8" cy="576.4" rx="2.1" ry="0.85" transform="rotate(-181 721.8 576.4)"/><ellipse cx="723.1" cy="574.2" rx="2.1" ry="0.85" transform="rotate(-117 723.1 574.2)"/><ellipse cx="724.9" cy="578.7" rx="2.1" ry="0.85" transform="rotate(-169 724.9 578.7)"/><ellipse cx="726.7" cy="576.9" rx="2.1" ry="0.85" transform="rotate(-105 726.7 576.9)"/><ellipse cx="727.1" cy="581.4" rx="2.1" ry="0.85" transform="rotate(-153 727.1 581.4)"/><ellipse cx="729.3" cy="580.1" rx="2.1" ry="0.85" transform="rotate(-89 729.3 580.1)"/><ellipse cx="728.3" cy="584.3" rx="2.1" ry="0.85" transform="rotate(-135 728.3 584.3)"/><ellipse cx="730.8" cy="583.7" rx="2.1" ry="0.85" transform="rotate(-71 730.8 583.7)"/><ellipse cx="728.5" cy="587.2" rx="2.1" ry="0.85" transform="rotate(-116 728.5 587.2)"/><ellipse cx="731.0" cy="587.5" rx="2.1" ry="0.85" transform="rotate(-52 731.0 587.5)"/><ellipse cx="727.7" cy="590.1" rx="2.1" ry="0.85" transform="rotate(-97 727.7 590.1)"/><ellipse cx="730.0" cy="591.2" rx="2.1" ry="0.85" transform="rotate(-33 730.0 591.2)"/><ellipse cx="725.8" cy="592.8" rx="2.1" ry="0.85" transform="rotate(-81 725.8 592.8)"/><ellipse cx="727.8" cy="594.5" rx="2.1" ry="0.85" transform="rotate(-17 727.8 594.5)"/><ellipse cx="723.1" cy="595.3" rx="2.1" ry="0.85" transform="rotate(-67 723.1 595.3)"/><ellipse cx="724.6" cy="597.4" rx="2.1" ry="0.85" transform="rotate(-3 724.6 597.4)"/><ellipse cx="719.5" cy="597.3" rx="2.1" ry="0.85" transform="rotate(-56 719.5 597.3)"/><ellipse cx="720.6" cy="599.7" rx="2.1" ry="0.85" transform="rotate(8 720.6 599.7)"/><ellipse cx="715.3" cy="598.8" rx="2.1" ry="0.85" transform="rotate(-46 715.3 598.8)"/><ellipse cx="715.9" cy="601.3" rx="2.1" ry="0.85" transform="rotate(18 715.9 601.3)"/></g>
<ellipse cx="707.6" cy="586" rx="18.6" ry="11.8" stroke-width="1.1" fill="#fff"/>
<ellipse cx="704.5" cy="586" rx="14.2" ry="10.4" stroke-width="0.8"/>
<path d="M689.5 585.6 H705 M690 590 C696 592.5 701 593.4 706 593.6 M691 581.2 C696 579 701 578.2 706 578" stroke-width="0.7"/>
<path d="M694.5 581.5 L697.5 580.2 L699.6 581.6 L703 580.2 L704.5 582.6 L703.2 585.6 L704.2 588.2 L701.2 590.2 L698.6 589.4 L697.2 587 L694.6 586.2 L693.6 583.6 Z" stroke-width="0.9" fill="#eef"/>
<path d="M706.6 578.5 L704.6 594.5 M708.6 578.5 L706.6 594.5" stroke-width="1"/>
<path d="M703.5 596.8 H712.5" stroke-width="1.1"/><path d="M700.5 598.9 H715.5" stroke-width="1.6"/><path d="M701 601.6 H715" stroke-width="1.4" stroke-dasharray="2 1"/>
</g>
<text x="707.6" y="590.6" font-size="13.5" font-weight="bold" font-style="italic" textLength="18.8" lengthAdjust="spacingAndGlyphs" style="fill:#2626ff;stroke:#2626ff;stroke-width:0.7">NCC</text>
<text x="699.2" y="573.6" font-size="5" style="fill:#2626ff">中</text><text x="713" y="573.6" font-size="5" style="fill:#2626ff">国</text>
</svg></body></html>
